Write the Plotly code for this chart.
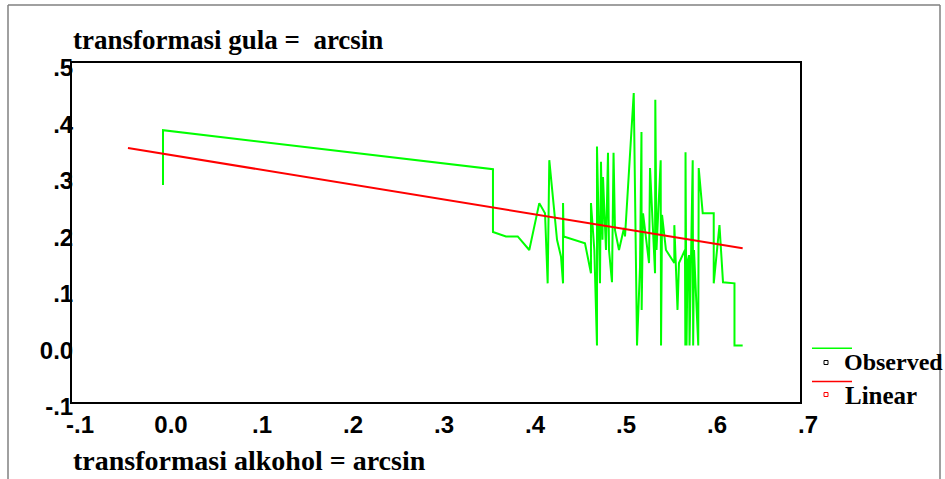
import plotly.graph_objects as go

# ---- data ----
obs_x = [0.0, 0.0, 0.0, 0.0,
         0.3626, 0.3626, 0.3769, 0.3898, 0.4025, 0.4135, 0.4198, 0.4227, 0.4245,
         0.4330, 0.4374, 0.4396, 0.4396, 0.4403, 0.4637, 0.4703, 0.4703, 0.4740,
         0.4769, 0.4769, 0.4802, 0.4813, 0.4830, 0.4835, 0.4868, 0.4890, 0.4901,
         0.4934, 0.4951, 0.4967, 0.5011, 0.5066, 0.5077, 0.5173, 0.5209, 0.5242,
         0.5258, 0.5260, 0.5275, 0.5341, 0.5352, 0.5407, 0.5410, 0.5423, 0.5469,
         0.5473, 0.5484, 0.5527, 0.5619, 0.5619, 0.5654, 0.5670, 0.5736, 0.5740,
         0.5742, 0.5753, 0.5764, 0.5780, 0.5786, 0.5821, 0.5826, 0.5835, 0.5882,
         0.5887, 0.5931, 0.6052, 0.6052, 0.6115, 0.6154, 0.6280, 0.6280, 0.6370]
obs_y = [0.284, 0.323, 0.351, 0.381,
         0.312, 0.201, 0.193, 0.193, 0.169, 0.252, 0.234, 0.110, 0.328,
         0.187, 0.157, 0.110, 0.252, 0.193, 0.181, 0.128, 0.252, 0.169,
         0.000, 0.352, 0.110, 0.325, 0.187, 0.298, 0.169, 0.341, 0.169,
         0.112, 0.341, 0.204, 0.169, 0.208, 0.193, 0.447, 0.000, 0.139,
         0.378, 0.063, 0.234, 0.146, 0.314, 0.128, 0.435, 0.169, 0.328,
         0.000, 0.231, 0.169, 0.146, 0.213, 0.063, 0.146, 0.169, 0.000,
         0.342, 0.000, 0.148, 0.160, 0.000, 0.328, 0.000, 0.169, 0.000,
         0.314, 0.234, 0.234, 0.110, 0.213, 0.112, 0.110, 0.000, 0.000]

lin_x = [-0.0385, 0.637]
lin_y = [0.3496, 0.172]

x_ticks = [-0.1, 0.0, 0.1, 0.2, 0.3, 0.4, 0.5, 0.6, 0.7]
x_tick_labels = ["-.1", "0.0", ".1", ".2", ".3", ".4", ".5", ".6", ".7"]
y_ticks = [-0.1, 0.0, 0.1, 0.2, 0.3, 0.4, 0.5]
y_tick_labels = ["-.1", "0.0", ".1", ".2", ".3", ".4", ".5"]

series_names = ["Observed", "Linear"]
title_text = "transformasi gula = \u00a0arcsin"
xtitle_text = "transformasi alkohol = arcsin"

GREEN = "#00ff00"
RED = "#ff0000"
SERIF = "Liberation Serif, Times New Roman, serif"
SANS = "Liberation Sans, Arial, sans-serif"

fig = go.Figure()
fig.add_trace(go.Scatter(x=obs_x, y=obs_y, mode="lines", name=series_names[0],
                         line=dict(color=GREEN, width=2), showlegend=False))
fig.add_trace(go.Scatter(x=lin_x, y=lin_y, mode="lines", name=series_names[1],
                         line=dict(color=RED, width=2), showlegend=False))

W, H = 945, 479
L, R, T, B = 72, 145, 63, 77
pw, ph = W - L - R, H - T - B


def px(xp):
    return (xp - L) / pw


def py(yp):
    return (H - B - yp) / ph


fig.update_layout(
    width=W, height=H,
    margin=dict(l=L, r=R, t=T, b=B, pad=0),
    paper_bgcolor="white", plot_bgcolor="white",
    title=dict(text=title_text, x=px(73), xref="paper", xanchor="left",
               y=1 - 40 / H, yref="container", yanchor="middle",
               font=dict(family=SERIF, size=27, color="black", weight="bold")),
    showlegend=False,
)
fig.update_xaxes(range=[-0.1, 0.7], tickvals=x_ticks, ticktext=x_tick_labels,
                 showgrid=False, zeroline=False, showline=True, linecolor="black",
                 linewidth=2, mirror=True, ticks="",
                 tickfont=dict(family=SANS, size=24, color="black", weight="bold"),
                 ticklabelshift=8, ticklabelstandoff=0)
fig.update_yaxes(range=[-0.1, 0.5], tickvals=y_ticks, ticktext=y_tick_labels,
                 showgrid=False, zeroline=False, showline=True, linecolor="black",
                 linewidth=2, mirror=True, ticks="",
                 tickfont=dict(family=SANS, size=24, color="black", weight="bold"),
                 ticklabelshift=5, ticklabelstandoff=-8)

shapes = []
# outer frame
frame = dict(type="line", xref="paper", yref="paper", line=dict(color="#808080", width=1.5))
shapes.append(dict(frame, x0=px(8), x1=px(940), y0=py(5), y1=py(5)))
shapes.append(dict(frame, x0=px(8), x1=px(8), y0=py(5), y1=py(H + 5)))
shapes.append(dict(frame, x0=px(940), x1=px(940), y0=py(5), y1=py(H + 5)))
# legend keys
shapes.append(dict(type="line", xref="paper", yref="paper", x0=px(812), x1=px(852),
                   y0=py(348.3), y1=py(348.3), line=dict(color=GREEN, width=1.5)))
shapes.append(dict(type="line", xref="paper", yref="paper", x0=px(812), x1=px(852),
                   y0=py(381.5), y1=py(381.5), line=dict(color=RED, width=1.5)))
shapes.append(dict(type="rect", xref="paper", yref="paper", x0=px(824), x1=px(828),
                   y0=py(364.5), y1=py(360.5), line=dict(color="black", width=1),
                   fillcolor="white"))
shapes.append(dict(type="rect", xref="paper", yref="paper", x0=px(824), x1=px(828),
                   y0=py(396.5), y1=py(392.5), line=dict(color=RED, width=1),
                   fillcolor="white"))
fig.update_layout(shapes=shapes)

ann_font = dict(family=SERIF, size=24, color="black", weight="bold")
fig.add_annotation(text=series_names[0], xref="paper", yref="paper", x=px(842), y=py(362),
                   xanchor="left", yanchor="middle", showarrow=False, font=ann_font)
fig.add_annotation(text=series_names[1], xref="paper", yref="paper", x=px(843), y=py(395),
                   xanchor="left", yanchor="middle", showarrow=False,
                   font=dict(ann_font, size=25))
fig.add_annotation(text=xtitle_text, xref="paper", yref="paper", x=px(71), y=py(460),
                   xanchor="left", yanchor="middle", showarrow=False,
                   font=dict(ann_font, size=28))

fig.write_html("out.html")
